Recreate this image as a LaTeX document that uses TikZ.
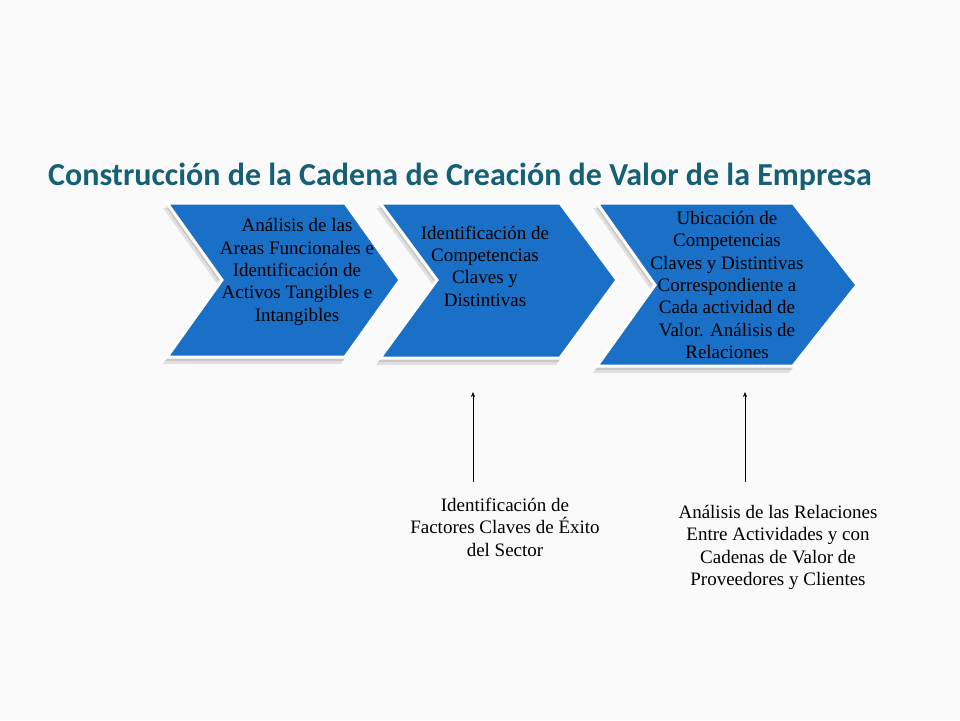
\documentclass[tikz,border=0pt]{standalone}
\usepackage{fontspec}
\setmainfont{Liberation Serif}
\newfontfamily\titlefont{Carlito}
\usetikzlibrary{arrows.meta}
\definecolor{chevblue}{RGB}{26,111,198}
\definecolor{titleteal}{RGB}{22,96,118}
\definecolor{paper}{RGB}{250,250,250}

\tikzset{
	chevron/.style = {fill = chevblue, draw = white, line width = 3pt, line join = miter},
	chevshadow/.style = {fill = black, opacity = 0.10, draw = none},
	chevtext/.style = {black, align = center, font = \fontsize{19}{22.3}\selectfont, inner sep = 0pt},
	notetext/.style = {black, align = center, font = \fontsize{19}{22.3}\selectfont, inner sep = 0pt},
	uparrow/.style = {-{Stealth[length = 5pt, width = 4pt]}, thin, black}
}

\begin{document}
\begin{tikzpicture}[x = 1pt, y = -1pt]

	\fill[paper] (0, 0) rectangle (960, 720);
	\useasboundingbox (0, 0) rectangle (960, 720);

	\node[anchor = base west, font = \titlefont\bfseries\fontsize{32}{36}\selectfont, text = titleteal, inner sep = 0pt] (title) at (48, 185) {Construcción de la Cadena de Creación de Valor de la Empresa};

	% shadows
	\fill[chevshadow] (163, 208) -- (341, 208) -- (396, 285) -- (341, 364) -- (163, 364) -- (218, 285) -- cycle;
	\fill[chevshadow] (165, 206) -- (343, 206) -- (398, 283) -- (343, 361) -- (165, 361) -- (220, 283) -- cycle;
	\fill[chevshadow] (376, 208) -- (556, 208) -- (613, 285) -- (556, 365) -- (376, 365) -- (433, 285) -- cycle;
	\fill[chevshadow] (378, 206) -- (558, 206) -- (615, 283) -- (558, 362) -- (378, 362) -- (435, 283) -- cycle;
	\fill[chevshadow] (593, 208) -- (789, 208) -- (853, 290) -- (789, 373) -- (593, 373) -- (651, 290) -- cycle;
	\fill[chevshadow] (595, 206) -- (791, 206) -- (855, 288) -- (791, 370) -- (595, 370) -- (653, 288) -- cycle;

	% chevrons
	\draw[chevron] (167, 203) -- (345, 203) -- (400, 280) -- (345, 357) -- (167, 357) -- (222, 280) -- cycle;
	\draw[chevron] (380, 203) -- (560, 203) -- (617, 280) -- (560, 358) -- (380, 358) -- (437, 280) -- cycle;
	\draw[chevron] (597, 203) -- (793, 203) -- (857, 285) -- (793, 366) -- (597, 366) -- (655, 285) -- cycle;

	\node[chevtext] (areas) at (297, 272) {Análisis de las\\Areas Funcionales e\\Identificación de\\Activos Tangibles e\\Intangibles};
	\node[chevtext] (compet) at (485, 266) {Identificación de\\Competencias\\Claves y\\Distintivas};
	\node[chevtext] (ubica) at (727, 285) {Ubicación de\\Competencias\\Claves y Distintivas\\Correspondiente a\\Cada actividad de\\Valor. Análisis de\\Relaciones};

	\node[notetext, anchor = north] (factores) at (505, 498) {Identificación de\\Factores Claves de Éxito\\del Sector};
	\node[notetext, anchor = north] (relac) at (778, 505) {Análisis de las Relaciones\\Entre Actividades y con\\Cadenas de Valor de\\Proveedores y Clientes};

	\coordinate (factop) at (473, 392);
	\coordinate (reltop) at (745, 392);
	\draw[uparrow, shorten <= 16pt] (factores.north -| factop) -- (factop);
	\draw[uparrow, shorten <= 23pt] (relac.north -| reltop) -- (reltop);

\end{tikzpicture}
\end{document}
